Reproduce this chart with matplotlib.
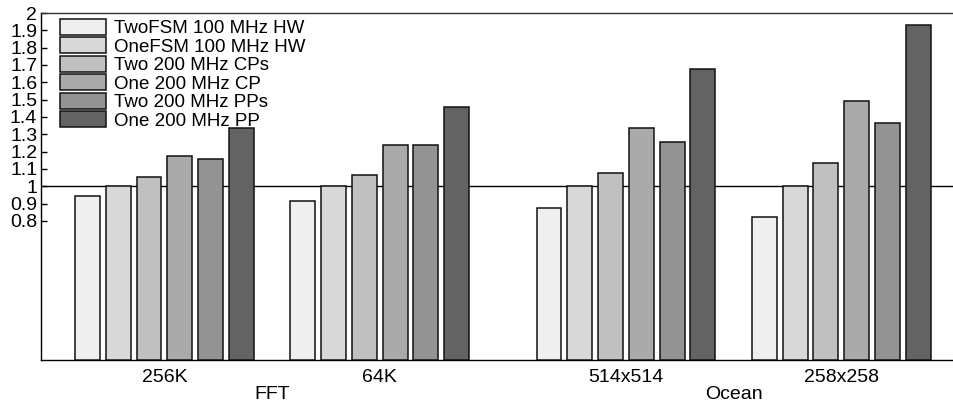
import matplotlib
matplotlib.use("Agg")
import matplotlib.pyplot as plt
import numpy as np

plt.rcParams['font.family'] = ['Liberation Sans', 'DejaVu Sans']

# ---- data ----
groups = ["256K", "64K", "514x514", "258x258"]
benchmarks = ["FFT", "Ocean"]
series = ["TwoFSM 100 MHz HW", "OneFSM 100 MHz HW", "Two 200 MHz CPs",
          "One 200 MHz CP", "Two 200 MHz PPs", "One 200 MHz PP"]
two_fsm_hw = [0.945, 0.917, 0.874, 0.824]
one_fsm_hw = [1.0, 1.0, 1.0, 1.0]
two_cps = [1.052, 1.066, 1.075, 1.136]
one_cp = [1.175, 1.236, 1.336, 1.490]
two_pps = [1.159, 1.236, 1.257, 1.363]
one_pp = [1.336, 1.459, 1.676, 1.931]
yticks = [0.8, 0.9, 1.0, 1.1, 1.2, 1.3, 1.4, 1.5, 1.6, 1.7, 1.8, 1.9, 2.0]

values = [two_fsm_hw, one_fsm_hw, two_cps, one_cp, two_pps, one_pp]
colors = ["#efefef", "#d8d8d8", "#c0c0c0", "#aaaaaa", "#939393", "#636363"]

# group centres: 7 bar-pitches apart, with one extra pitch between benchmarks
centers = np.array([0.0, 7.0, 15.0, 22.0])
bench_centers = [(centers[0] + centers[1]) / 2, (centers[2] + centers[3]) / 2]

W, H = 954, 405
fig = plt.figure(figsize=(W / 100, H / 100), dpi=100)
left_px, top_px, bottom_px = 41.3, 13.0, 359.5
pitch_px = 30.77
xmin, xmax = -4.0, 26.0
ax = fig.add_axes([left_px / W, (H - bottom_px) / H,
                   (xmax - xmin) * pitch_px / W, (bottom_px - top_px) / H])

bw = 0.81
for i, (vals, col, lab) in enumerate(zip(values, colors, series)):
    ax.bar(centers + (i - 2.5), vals, width=bw, color=col,
           edgecolor="#111111", linewidth=1.1, label=lab, zorder=3)

ax.axhline(1.0, color="black", linewidth=1.0, zorder=2)

ax.set_xlim(xmin, xmax)
ax.set_ylim(0, 2.0)
ax.set_yticks(yticks)
ax.set_yticklabels(["%g" % t for t in yticks])
ax.tick_params(axis="y", direction="in", length=4, width=1, labelsize=14, pad=3)
ax.set_xticks(centers)
ax.set_xticklabels(groups)
ax.tick_params(axis="x", length=0, labelsize=14, pad=7)

for x, name in zip(bench_centers, benchmarks):
    ax.text(x, -0.203, name, transform=ax.transData, ha="center", va="center",
            fontsize=14, clip_on=False)

for s in ["left", "bottom", "top", "right"]:
    ax.spines[s].set_linewidth(1.0)
ax.spines["top"].set_color("#333333")

leg = ax.legend(loc="upper left", bbox_to_anchor=(19.0 / 923, 1 - 6.0 / 346.5),
                frameon=False, borderpad=0, borderaxespad=0, labelspacing=0,
                handlelength=2.45, handleheight=0.93, handletextpad=0.42,
                fontsize=13.5)

fig.savefig("out.png", dpi=100)
